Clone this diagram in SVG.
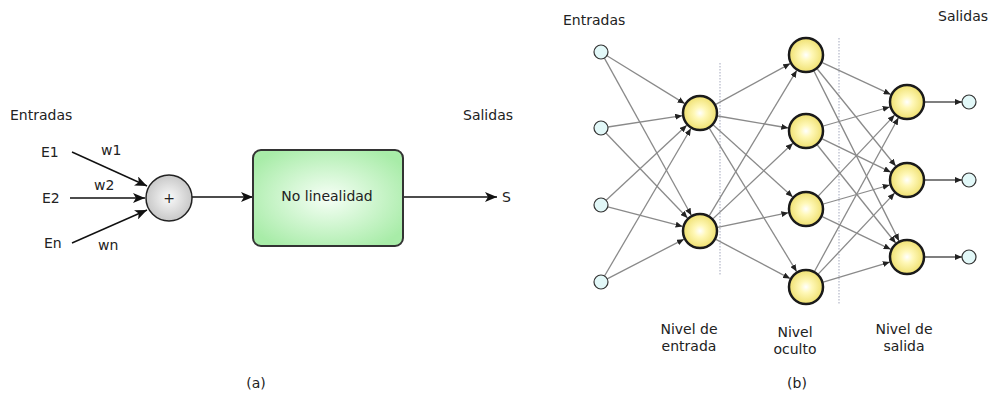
<svg xmlns="http://www.w3.org/2000/svg" width="993" height="396" viewBox="0 0 993 396">
<style>
text{font-family:"DejaVu Sans","Verdana",sans-serif;font-size:14px;fill:#222}
.c{text-anchor:middle}
.la{stroke:#111;stroke-width:1.4;fill:none;marker-end:url(#big)}
.e{stroke:#8a8a8a;stroke-width:1.3;fill:none;marker-end:url(#sm)}
.eo{stroke:#555;stroke-width:1.5;fill:none;marker-end:url(#sm)}
.yn{fill:url(#yg);stroke:#1a1a1a;stroke-width:2.5}
.sn{fill:#e2f8f8;stroke:#333;stroke-width:1.2}
.dot{stroke:#b8bccc;stroke-width:1.3;stroke-dasharray:1.5 1.5}
</style>
<defs>
<marker id="big" markerUnits="userSpaceOnUse" markerWidth="13" markerHeight="10" refX="12" refY="5" orient="auto"><path d="M0,0 L12,5 L0,10 L3,5 z" fill="#111"/></marker>
<marker id="sm" markerUnits="userSpaceOnUse" markerWidth="8" markerHeight="6" refX="7" refY="3" orient="auto"><path d="M0,0 L7,3 L0,6 z" fill="#222"/></marker>
<radialGradient id="yg" cx="0.5" cy="0.5" r="0.5"><stop offset="0" stop-color="#ffffff"/><stop offset="0.35" stop-color="#fff8b8"/><stop offset="1" stop-color="#efe070"/></radialGradient>
<radialGradient id="gg" cx="0.5" cy="0.5" r="0.6"><stop offset="0" stop-color="#f6fff6"/><stop offset="1" stop-color="#a8eca8"/></radialGradient>
<radialGradient id="wg" cx="0.5" cy="0.5" r="0.5"><stop offset="0" stop-color="#fafafa"/><stop offset="1" stop-color="#c8c8c8"/></radialGradient>
</defs>
<rect width="993" height="396" fill="#fff"/>

<!-- (a) -->
<text x="10" y="120">Entradas</text>
<text x="463" y="120">Salidas</text>
<g id="connectors-a">
<line class="la" x1="72" y1="152" x2="147" y2="186"/>
<line class="la" x1="70" y1="198" x2="145" y2="198"/>
<line class="la" x1="72" y1="243" x2="147" y2="210"/>
<line class="la" x1="192" y1="197" x2="253" y2="197"/>
<line class="la" x1="403" y1="197" x2="497" y2="197"/>
</g>
<g id="E1"><text x="41" y="157">E1</text></g>
<g id="E2"><text x="42" y="203">E2</text></g>
<g id="En"><text x="44" y="248">En</text></g>
<text x="101" y="155">w1</text>
<text x="94" y="190">w2</text>
<text x="98" y="250">wn</text>
<g id="sum"><circle cx="169" cy="198" r="23" fill="url(#wg)" stroke="#222" stroke-width="1.5"/><text class="c" x="169" y="203">+</text></g>
<g id="nolin"><rect x="253" y="150" width="150" height="96" rx="8" fill="url(#gg)" stroke="#333" stroke-width="2"/><text class="c" x="327" y="201">No linealidad</text></g>
<g id="S"><text x="502" y="202">S</text></g>
<text class="c" x="256" y="388">(a)</text>

<!-- (b) -->
<text x="563" y="25">Entradas</text>
<text x="938" y="21">Salidas</text>
<line class="dot" x1="720" y1="63" x2="720" y2="275"/>
<line class="dot" x1="839" y1="38" x2="839" y2="305"/>
<g id="connectors-b">
<line class="e" x1="607.0" y1="55.7" x2="684.7" y2="103.6"/>
<line class="e" x1="604.4" y1="58.1" x2="691.3" y2="215.3"/>
<line class="e" x1="607.9" y1="127.0" x2="682.2" y2="115.7"/>
<line class="e" x1="605.9" y1="133.0" x2="687.5" y2="218.0"/>
<line class="e" x1="606.1" y1="200.2" x2="686.8" y2="125.3"/>
<line class="e" x1="607.8" y1="206.8" x2="682.6" y2="226.4"/>
<line class="e" x1="604.5" y1="276.0" x2="690.9" y2="128.5"/>
<line class="e" x1="607.2" y1="278.8" x2="684.0" y2="239.2"/>

<line class="e" x1="715.8" y1="104.4" x2="790.2" y2="63.6"/>
<line class="e" x1="717.7" y1="116.0" x2="788.3" y2="128.0"/>
<line class="e" x1="713.3" y1="125.1" x2="792.7" y2="196.9"/>
<line class="e" x1="709.4" y1="128.4" x2="796.6" y2="271.6"/>
<line class="e" x1="709.3" y1="215.6" x2="796.7" y2="70.4"/>
<line class="e" x1="713.1" y1="218.6" x2="792.9" y2="143.3"/>
<line class="e" x1="717.6" y1="227.3" x2="788.4" y2="212.7"/>
<line class="e" x1="715.9" y1="239.4" x2="790.1" y2="278.6"/>

<line class="e" x1="822.3" y1="62.6" x2="890.7" y2="94.4"/>
<line class="e" x1="817.3" y1="69.0" x2="895.7" y2="166.0"/>
<line class="e" x1="814.0" y1="71.1" x2="899.0" y2="240.9"/>
<line class="e" x1="823.3" y1="126.0" x2="889.7" y2="107.0"/>
<line class="e" x1="822.2" y1="138.8" x2="890.8" y2="172.2"/>
<line class="e" x1="817.3" y1="145.0" x2="895.7" y2="243.0"/>
<line class="e" x1="818.4" y1="195.9" x2="894.6" y2="115.1"/>
<line class="e" x1="823.3" y1="204.0" x2="889.7" y2="185.0"/>
<line class="e" x1="822.3" y1="216.7" x2="890.7" y2="249.3"/>
<line class="e" x1="814.6" y1="271.2" x2="898.4" y2="117.8"/>
<line class="e" x1="818.4" y1="273.9" x2="894.6" y2="193.1"/>
<line class="e" x1="823.2" y1="282.1" x2="889.8" y2="262.1"/>

<line class="eo" x1="925" y1="102" x2="962" y2="102"/>
<line class="eo" x1="925" y1="180" x2="962" y2="180"/>
<line class="eo" x1="925" y1="257" x2="962" y2="257"/>
</g>
<g id="in1"><circle class="sn" cx="601" cy="52" r="7"/></g>
<g id="in2"><circle class="sn" cx="601" cy="128" r="7"/></g>
<g id="in3"><circle class="sn" cx="601" cy="205" r="7"/></g>
<g id="in4"><circle class="sn" cx="601" cy="282" r="7"/></g>
<g id="h1a"><circle class="yn" cx="700" cy="113" r="17"/></g>
<g id="h1b"><circle class="yn" cx="700" cy="231" r="17"/></g>
<g id="h2a"><circle class="yn" cx="806" cy="55" r="17"/></g>
<g id="h2b"><circle class="yn" cx="806" cy="131" r="17"/></g>
<g id="h2c"><circle class="yn" cx="806" cy="209" r="17"/></g>
<g id="h2d"><circle class="yn" cx="806" cy="287" r="17"/></g>
<g id="oa"><circle class="yn" cx="907" cy="102" r="17"/></g>
<g id="ob"><circle class="yn" cx="907" cy="180" r="17"/></g>
<g id="oc"><circle class="yn" cx="907" cy="257" r="17"/></g>
<g id="out1"><circle class="sn" cx="969" cy="102" r="7"/></g>
<g id="out2"><circle class="sn" cx="969" cy="180" r="7"/></g>
<g id="out3"><circle class="sn" cx="969" cy="257" r="7"/></g>
<text class="c" x="689" y="334">Nivel de</text>
<text class="c" x="689" y="351">entrada</text>
<text class="c" x="795" y="337">Nivel</text>
<text class="c" x="795" y="354">oculto</text>
<text class="c" x="904" y="334">Nivel de</text>
<text class="c" x="904" y="351">salida</text>
<text class="c" x="797" y="388">(b)</text>
</svg>
